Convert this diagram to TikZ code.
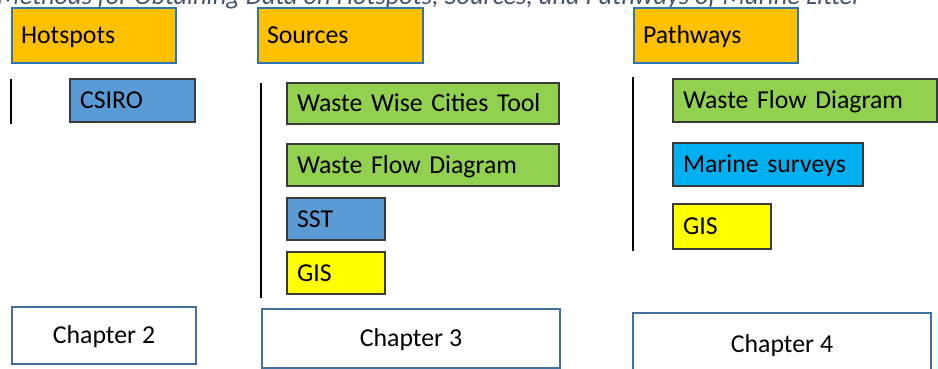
\documentclass[tikz,border=0pt]{standalone}
\usepackage{fontspec}
\setmainfont{Carlito}
\definecolor{hdrfill}{HTML}{FFC000}
\definecolor{hdrline}{HTML}{2E75B6}
\definecolor{grn}{HTML}{92D050}
\definecolor{blu}{HTML}{5B9BD5}
\definecolor{cyn}{HTML}{00B0F0}
\definecolor{ylw}{HTML}{FFFF00}
\definecolor{boxline}{HTML}{3A3A3A}
\definecolor{chline}{HTML}{41719C}
\definecolor{ttl}{HTML}{44546A}
\begin{document}
\begin{tikzpicture}[x=1pt,y=-1pt,
  txt/.style={font=\fontsize{25.8}{30}\selectfont, text height=16.6pt, text depth=0pt},
  hdr/.style={txt, draw=hdrline, fill=hdrfill, line width=1.2pt, anchor=north west, outer sep=0pt, inner xsep=9pt, inner ysep=0pt, align=left},
  itembox/.style={txt, draw=boxline, line width=1.2pt, anchor=north west, outer sep=0pt, inner xsep=10pt, inner ysep=0pt, align=left},
  chap/.style={txt, draw=chline, fill=white, line width=1.2pt, anchor=north west, outer sep=0pt, inner sep=0pt, align=center},
  bar/.style={black, line width=2.2pt}]
\useasboundingbox (0,0) rectangle (938,369);
\clip (0,0) rectangle (938,369);
% title, cut off at the top edge as in the source
\node[font=\fontsize{26.4}{30}\selectfont\itshape, text=ttl, anchor=base west, inner sep=0pt] (title) at (-3,5) {Methods for Obtaining Data on Hotspots, Sources, and Pathways of Marine Litter};
% headers
\node[hdr, text width=146, minimum height=55] (hot) at (12,8) {Hotspots};
\node[hdr, text width=147, minimum height=55] (src) at (258,8) {Sources};
\node[hdr, text width=146, minimum height=55] (pth) at (634,8) {Pathways};
% hotspots
\draw[bar] (11,79) coordinate (b1a) -- (11,124) coordinate (b1b);
\node[itembox, fill=blu, text width=105, minimum height=43] (csiro) at (70,79) {CSIRO};
% sources
\draw[bar] (261,83) coordinate (b2a) -- (261,298) coordinate (b2b);
\node[itembox, fill=grn, text width=252, minimum height=41] (wwct) at (287,83) {Waste Wise Cities Tool};
\node[itembox, fill=grn, text width=252, minimum height=42] (wfd1) at (287,144) {Waste Flow Diagram};
\node[itembox, fill=blu, text width=78, minimum height=42] (sst) at (287,198) {SST};
\node[itembox, fill=ylw, text width=78, minimum height=42] (gis1) at (287,252) {GIS};
% pathways
\draw[bar] (633,77) coordinate (b3a) -- (633,251) coordinate (b3b);
\node[itembox, fill=grn, text width=244, minimum height=43] (wfd2) at (673,79) {Waste Flow Diagram};
\node[itembox, fill=cyn, text width=170, minimum height=43] (ms) at (673,143) {Marine surveys};
\node[itembox, fill=ylw, text width=78, minimum height=45] (gis2) at (673,204) {GIS};
% chapters
\node[chap, minimum width=184, minimum height=57] (ch2) at (12,307) {Chapter 2};
\node[chap, minimum width=298, minimum height=59] (ch3) at (262,309) {Chapter 3};
\node[chap, minimum width=298, minimum height=62] (ch4) at (633,313) {Chapter 4};
\end{tikzpicture}
\end{document}
